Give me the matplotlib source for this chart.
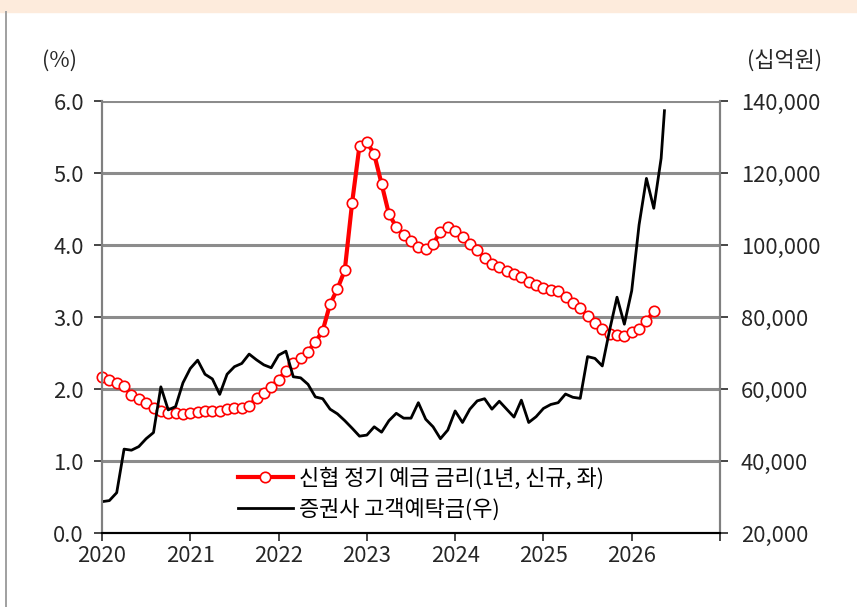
import matplotlib.pyplot as plt
from matplotlib.lines import Line2D
from matplotlib.patches import Rectangle

plt.rcParams['font.family'] = ['Noto Sans CJK KR', 'DejaVu Sans']
FS = 15.8

# 신협 정기 예금 금리(1년, 신규), %, monthly from 2020-01
rate = [2.16, 2.13, 2.09, 2.04, 1.92, 1.86, 1.80, 1.74, 1.70, 1.67,
        1.66, 1.65, 1.67, 1.68, 1.69, 1.70, 1.70, 1.72, 1.74, 1.74,
        1.76, 1.88, 1.94, 2.03, 2.13, 2.25, 2.36, 2.43, 2.52, 2.65,
        2.81, 3.18, 3.39, 3.65, 4.59, 5.38, 5.43, 5.26, 4.85, 4.43,
        4.25, 4.14, 4.06, 3.97, 3.95, 4.02, 4.18, 4.25, 4.19, 4.11,
        4.02, 3.93, 3.82, 3.74, 3.69, 3.64, 3.60, 3.55, 3.49, 3.44,
        3.40, 3.37, 3.36, 3.28, 3.20, 3.12, 3.02, 2.91, 2.83, 2.77,
        2.75, 2.74, 2.79, 2.84, 2.94, 3.08]

# 증권사 고객예탁금, 십억원, monthly from 2020-01 (last one = latest reading)
deposit = [28700, 29000, 31200, 43300, 43000, 44000, 46200, 47900, 60600, 54200,
           55100, 61700, 65700, 68000, 64100, 62800, 58500, 64100, 66200, 67100,
           69700, 68100, 66700, 65900, 69400, 70500, 63400, 63100, 61300, 57800,
           57300, 54400, 53100, 51200, 49100, 46900, 47200, 49500, 48000, 51200,
           53250, 51900, 51900, 56200, 51600, 49500, 46200, 48600, 53900, 50700,
           54400, 56700, 57300, 54400, 56600, 54400, 52200, 56900, 50700, 52300,
           54600, 55700, 56200, 58600, 57700, 57400, 69000, 68500, 66400, 76400,
           85500, 78000, 87300, 105600, 118500, 110200, 124100, 137300]
deposit_month = list(range(len(deposit) - 1)) + [76.45]

years = ['2020', '2021', '2022', '2023', '2024', '2025', '2026', '']

fig = plt.figure(figsize=(8.57, 6.07), dpi=100)
fig.patches.append(Rectangle((0, 1 - 12 / 607), 1, 12 / 607, transform=fig.transFigure,
                             color='#FDEBDC', zorder=0))
fig.lines.append(Line2D([5.5 / 857, 5.5 / 857], [0, 1 - 12 / 607], transform=fig.transFigure,
                        color='#A0A0A0', lw=1.4))

ax = fig.add_axes([102 / 857, 1 - 533 / 607, 618 / 857, 432 / 607])
ax2 = ax.twinx()

ax.plot(range(len(rate)), rate, color='#FF0000', lw=3, marker='o', ms=7.5,
        mfc='white', mec='#FF0000', mew=1.2, clip_on=False, zorder=3,
        label='신협 정기 예금 금리(1년, 신규, 좌)')
ax2.plot(deposit_month, deposit, color='black', lw=2, label='증권사 고객예탁금(우)')

ax.set_xlim(0, 84)
ax.set_ylim(0, 6)
ax2.set_ylim(20000, 140000)
ax.set_xticks(range(0, 85, 12))
ax.set_xticklabels(years)
ax.set_yticks([0, 1, 2, 3, 4, 5, 6])
ax.set_yticklabels([f'{v:.1f}' for v in range(7)])
ax2.set_yticks(range(20000, 140001, 20000))
ax2.set_yticklabels([f'{v:,}' for v in range(20000, 140001, 20000)])

for v in range(1, 7):
    ax.axhline(v, color='#8C8C8C', lw=2.2, zorder=1)

for a in (ax, ax2):
    a.spines['top'].set_visible(False)
    a.spines['left'].set_color('#808080')
    a.spines['right'].set_color('#808080')
    a.spines['left'].set_linewidth(1.5)
    a.spines['right'].set_linewidth(1.5)
    a.spines['bottom'].set_color('black')
    a.spines['bottom'].set_linewidth(1.5)
    a.tick_params(labelsize=FS, colors='#262626', length=6, width=1.2, direction='out')
ax.tick_params(axis='y', pad=7)
ax2.tick_params(axis='y', pad=9)
ax.tick_params(axis='x', pad=3)

fig.text(60 / 857, 1 - 61 / 607, '(%)', ha='center', va='center', fontsize=FS, color='#262626')
fig.text(785 / 857, 1 - 61 / 607, '(십억원)', ha='center', va='center', fontsize=FS, color='#262626')

h1, l1 = ax.get_legend_handles_labels()
h2, l2 = ax2.get_legend_handles_labels()
ax2.legend(h1 + h2, l1 + l2, loc='lower left', bbox_to_anchor=(0.2, 0.0), frameon=False,
           fontsize=FS, handlelength=2.5, handletextpad=0.3, labelspacing=0.4,
           borderaxespad=0.15)

fig.savefig('out.png', dpi=100)
